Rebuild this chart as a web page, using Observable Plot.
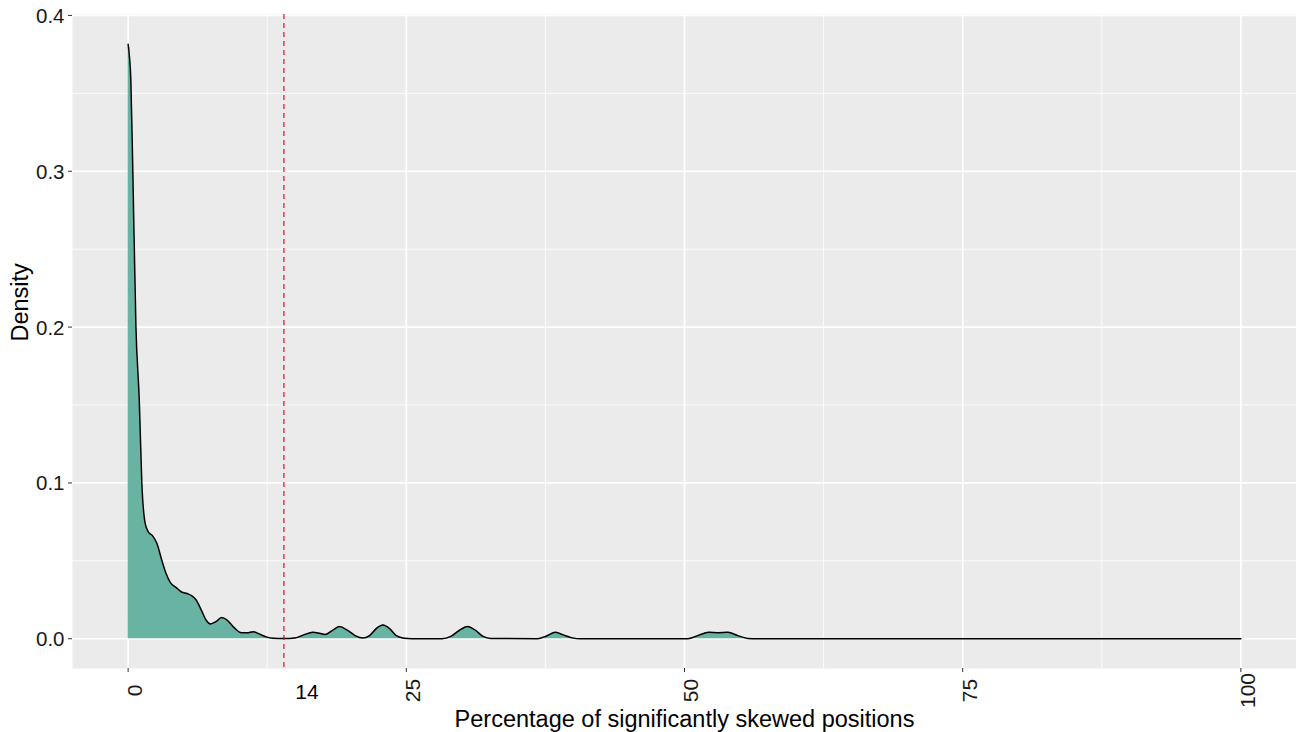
<!DOCTYPE html>
<html>
<head>
<meta charset="utf-8">
<script src="https://cdn.jsdelivr.net/npm/d3@7"></script>
<script src="https://cdn.jsdelivr.net/npm/@observablehq/plot@0.6"></script>
<style>
  html, body { margin: 0; padding: 0; background: #ffffff; }
  #chart svg { display: block; }
</style>
</head>
<body>
<div id="chart"></div>
<script>
// Density estimate (x = % of significantly skewed positions)
const densX = [0, 0.1, 0.24, 0.42, 0.7, 1.0, 1.23, 1.53, 1.83, 2.2, 2.6, 3.0, 3.4, 3.8, 4.3, 4.8, 5.3, 5.7, 6.1, 6.6, 7.0, 7.4, 7.9, 8.4, 8.9, 9.5, 10.2, 10.7, 11.25, 11.8, 12.4, 13.0, 14.0, 15.0, 15.8, 16.6, 17.2, 17.7, 18.4, 19.0, 19.7, 20.4, 21.1, 21.7, 22.3, 22.9, 23.5, 24.1, 24.8, 25.5, 28.2, 29.0, 29.7, 30.5, 31.2, 31.9, 32.6, 36.8, 37.6, 38.4, 39.2, 40.0, 40.6, 50.3, 51.2, 52.2, 53.0, 53.9, 54.8, 55.7, 56.5, 100];
const densY = [0.3815, 0.375, 0.359, 0.30, 0.2, 0.153, 0.10, 0.074, 0.0684, 0.066, 0.061, 0.051, 0.042, 0.036, 0.033, 0.030, 0.029, 0.0277, 0.025, 0.018, 0.012, 0.0095, 0.011, 0.0137, 0.012, 0.0073, 0.0038, 0.0038, 0.0045, 0.003, 0.0012, 0.0003, 0.0001, 0.0005, 0.0025, 0.0042, 0.0035, 0.0027, 0.0055, 0.0079, 0.0055, 0.002, 0.0004, 0.002, 0.0065, 0.0088, 0.0065, 0.002, 0.0003, 0, 0, 0.0015, 0.005, 0.0079, 0.0055, 0.0015, 0.0002, 0, 0.0018, 0.0041, 0.0022, 0.0004, 0, 0, 0.002, 0.0041, 0.0039, 0.0041, 0.002, 0.0002, 0, 0];

const xTicks = [0, 25, 50, 75, 100];
const xMinor = [12.5, 37.5, 62.5, 87.5];
const yTicks = [0, 0.1, 0.2, 0.3, 0.4];
const yMinor = [0.05, 0.15, 0.25, 0.35];
const threshold = [14];
const xTitle = "Percentage of significantly skewed positions";
const yTitle = "Density";

const density = densX.map((x, i) => ({x, y: densY[i]}));

const chart = Plot.plot({
  width: 1296,
  height: 732,
  marginTop: 14,
  marginRight: 0,
  marginBottom: 64,
  marginLeft: 72,
  style: {background: "#ffffff", fontFamily: "'Liberation Sans', Arial, sans-serif"},
  x: {domain: [-5, 105], axis: null},
  y: {domain: [-0.0191, 0.4006], axis: null},
  marks: [
    Plot.frame({fill: "#EBEBEB", stroke: null}),
    Plot.gridX(xMinor, {stroke: "#ffffff", strokeOpacity: 1, strokeWidth: 0.8}),
    Plot.gridY(yMinor, {stroke: "#ffffff", strokeOpacity: 1, strokeWidth: 0.8}),
    Plot.gridX(xTicks, {stroke: "#ffffff", strokeOpacity: 1, strokeWidth: 1.6}),
    Plot.gridY(yTicks, {stroke: "#ffffff", strokeOpacity: 1, strokeWidth: 1.6}),
    Plot.areaY(density, {x: "x", y: "y", fill: "#69b3a2", curve: "monotone-x"}),
    Plot.lineY(density, {x: "x", y: "y", stroke: "#000000", strokeWidth: 1.5, curve: "monotone-x"}),
    Plot.ruleX(threshold, {stroke: "#e00000", strokeWidth: 1.1, strokeDasharray: "5,4"}),
    // axes tick marks
    Plot.axisX(xTicks, {tickSize: 4, tickFormat: () => "", stroke: "#333333", label: null}),
    Plot.axisY(yTicks, {tickSize: 4, tickFormat: () => "", stroke: "#333333", label: null}),
    // tick labels
    Plot.text(xTicks, {x: d => d, frameAnchor: "bottom", rotate: -90, lineAnchor: "top", textAnchor: "middle", dy: 22, dx: -1, fontSize: 21, fill: "#1a1a1a", text: d => String(d)}),
    Plot.text(yTicks, {y: d => d, frameAnchor: "left", textAnchor: "end", lineAnchor: "middle", dx: -8, dy: 1, fontSize: 20.5, fill: "#1a1a1a", text: d => d.toFixed(1)}),
    Plot.text(threshold, {x: d => d, frameAnchor: "bottom", lineAnchor: "middle", dy: 24, dx: 23, fontSize: 21, fill: "#000000", text: d => String(d)}),
    // titles
    Plot.text([xTitle], {frameAnchor: "bottom", lineAnchor: "middle", dy: 51, fontSize: 23.5, fill: "#000000", text: d => d}),
    Plot.text([yTitle], {frameAnchor: "left", rotate: -90, lineAnchor: "middle", dx: -52, fontSize: 23.5, fill: "#000000", text: d => d})
  ]
});

document.getElementById("chart").appendChild(chart);
</script>
</body>
</html>
